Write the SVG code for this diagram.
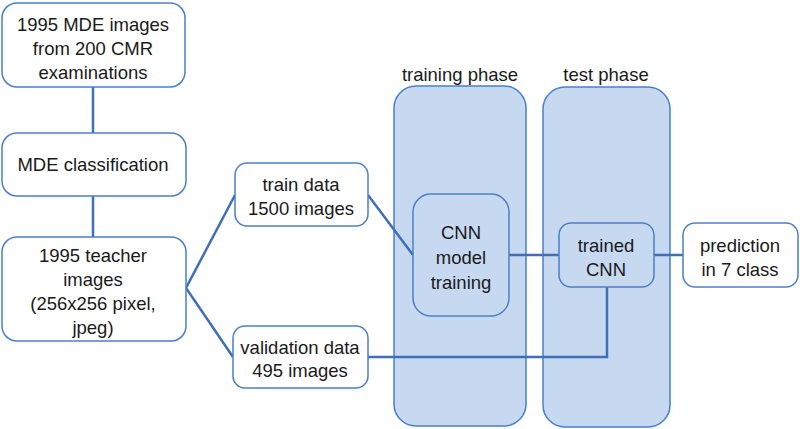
<svg xmlns="http://www.w3.org/2000/svg" width="800" height="429" viewBox="0 0 800 429">
<style>
.box{fill:#ffffff;stroke:#4a7fcb;stroke-width:1.5}
.panel{fill:#c6d9f1;stroke:#4a7fcb;stroke-width:1.5}
.inner{fill:#c6d9f1;stroke:#4a7fcb;stroke-width:1.5}
.conn{stroke:#3f6fb8;stroke-width:2.5;fill:none}
text{font-family:"Liberation Sans",Arial,sans-serif;font-size:18.5px;fill:#1a1a1a;text-anchor:middle}
</style>
<rect width="800" height="429" fill="#ffffff"/>
<g id="panel-training">
<rect class="panel" x="394" y="86" width="132" height="340" rx="22"/>
<text x="460" y="81">training phase</text>
</g>
<g id="panel-test">
<rect class="panel" x="543" y="87" width="127" height="340" rx="22"/>
<text x="606" y="81">test phase</text>
</g>
<g id="connectors">
<line class="conn" x1="93" y1="87" x2="93" y2="133"/>
<line class="conn" x1="93" y1="196" x2="93" y2="237"/>
<polyline class="conn" points="235,195 186,288 233,357"/>
<line class="conn" x1="368" y1="195" x2="413" y2="255"/>
<polyline class="conn" points="368,357 607,357 607,287"/>
<line class="conn" x1="509" y1="255" x2="559" y2="255"/>
<line class="conn" x1="654" y1="255" x2="683" y2="255"/>
</g>
<g id="n-mde-images">
<rect class="box" x="2" y="3" width="183" height="84" rx="15"/>
<text x="93" y="31">1995 MDE images</text>
<text x="93" y="55">from 200 CMR</text>
<text x="93" y="79">examinations</text>
</g>
<g id="n-mde-class">
<rect class="box" x="2" y="133" width="184" height="63" rx="15"/>
<text x="93" y="171">MDE classification</text>
</g>
<g id="n-teacher">
<rect class="box" x="2" y="237" width="184" height="104" rx="15"/>
<text x="93" y="262">1995 teacher</text>
<text x="93" y="286">images</text>
<text x="93" y="310">(256x256 pixel,</text>
<text x="93" y="334">jpeg)</text>
</g>
<g id="n-train">
<rect class="box" x="235" y="163" width="133" height="63" rx="12"/>
<text x="301" y="191">train data</text>
<text x="301" y="215">1500 images</text>
</g>
<g id="n-valid">
<rect class="box" x="233" y="326" width="135" height="62" rx="12"/>
<text x="300" y="354">validation data</text>
<text x="300" y="377">495 images</text>
</g>
<g id="n-cnn-training">
<rect class="inner" x="413" y="194" width="96" height="122" rx="18"/>
<text x="461" y="239">CNN</text>
<text x="461" y="264">model</text>
<text x="461" y="289">training</text>
</g>
<g id="n-trained-cnn">
<rect class="inner" x="559" y="223" width="95" height="64" rx="12"/>
<text x="606" y="252">trained</text>
<text x="606" y="276">CNN</text>
</g>
<g id="n-prediction">
<rect class="box" x="683" y="223" width="115" height="64" rx="12"/>
<text x="740" y="252">prediction</text>
<text x="740" y="276">in 7 class</text>
</g>
</svg>
